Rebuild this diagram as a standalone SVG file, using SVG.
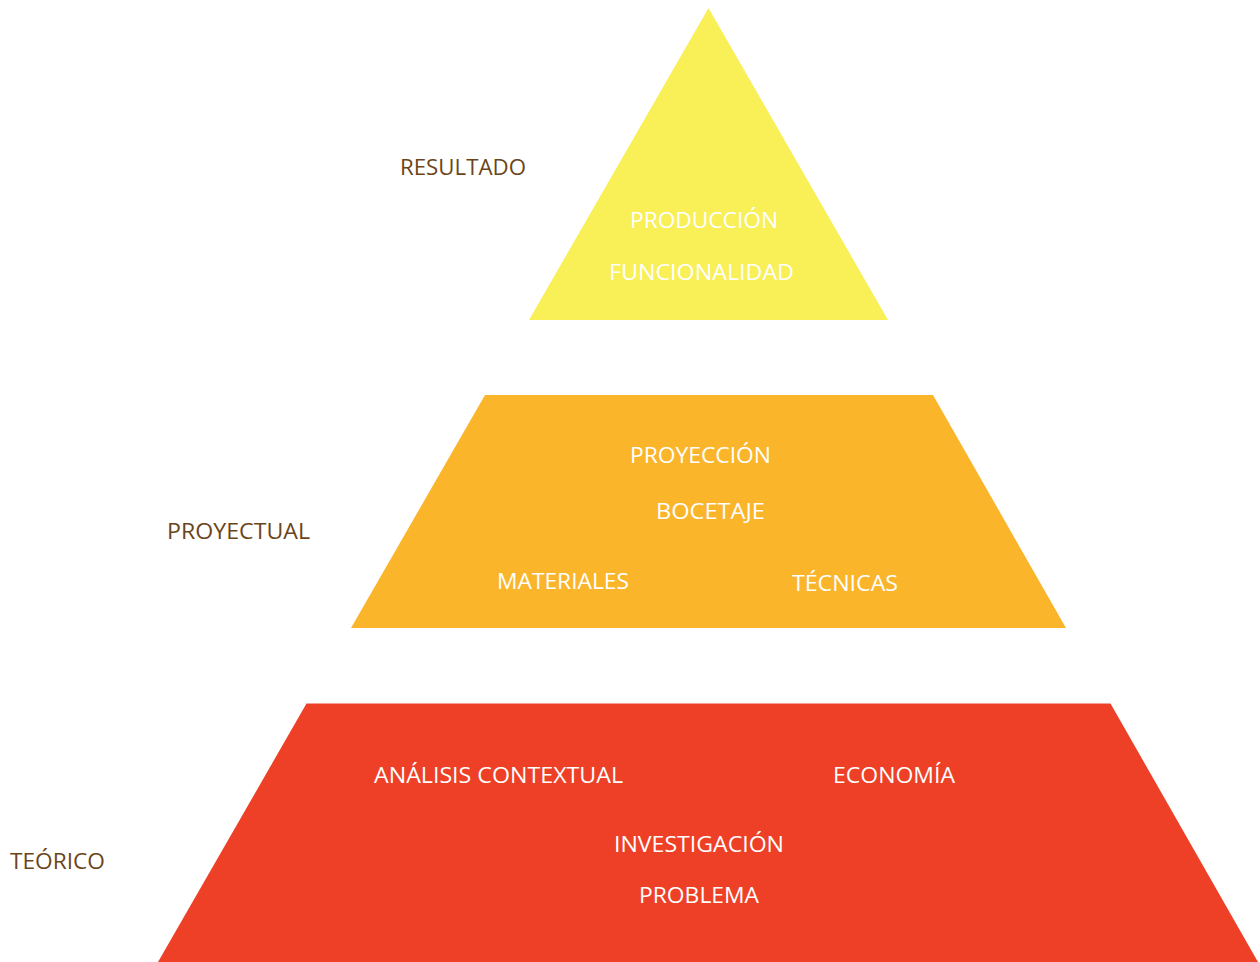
<svg xmlns="http://www.w3.org/2000/svg" width="1260" height="962" viewBox="0 0 1260 962">
<style>
.lbl{font-family:"Open Sans","Liberation Sans",sans-serif;font-size:22px;fill:#6b4519;text-anchor:middle}
.in{font-family:"Open Sans","Liberation Sans",sans-serif;font-size:22px;fill:#ffffff;text-anchor:middle}
</style>
<rect width="1260" height="962" fill="#ffffff"/>
<g id="resultado">
<polygon points="708.5,8 888,320 529,320" fill="#f9ef57"/>
<text class="in" x="704" y="228" textLength="148" lengthAdjust="spacingAndGlyphs">PRODUCCIÓN</text>
<text class="in" x="701.5" y="280" textLength="185" lengthAdjust="spacingAndGlyphs">FUNCIONALIDAD</text>
</g>
<g id="proyectual">
<polygon points="485,395 933,395 1066,628 351,628" fill="#fbb52b"/>
<text class="in" x="700.5" y="463" textLength="141" lengthAdjust="spacingAndGlyphs">PROYECCIÓN</text>
<text class="in" x="710.5" y="519" textLength="109" lengthAdjust="spacingAndGlyphs">BOCETAJE</text>
<text class="in" x="563" y="589" textLength="132" lengthAdjust="spacingAndGlyphs">MATERIALES</text>
<text class="in" x="845" y="591" textLength="106" lengthAdjust="spacingAndGlyphs">TÉCNICAS</text>
</g>
<g id="teorico">
<polygon points="306.5,703.5 1110.5,703.5 1258,962 158,962" fill="#ee4026"/>
<text class="in" x="498.5" y="783" textLength="249" lengthAdjust="spacingAndGlyphs">ANÁLISIS CONTEXTUAL</text>
<text class="in" x="894" y="783" textLength="122" lengthAdjust="spacingAndGlyphs">ECONOMÍA</text>
<text class="in" x="699" y="852" textLength="170" lengthAdjust="spacingAndGlyphs">INVESTIGACIÓN</text>
<text class="in" x="699" y="903" textLength="120" lengthAdjust="spacingAndGlyphs">PROBLEMA</text>
</g>
<g id="labels">
<text class="lbl" x="463" y="175" textLength="126" lengthAdjust="spacingAndGlyphs">RESULTADO</text>
<text class="lbl" x="238.5" y="539" textLength="143" lengthAdjust="spacingAndGlyphs">PROYECTUAL</text>
<text class="lbl" x="57.5" y="869" textLength="95" lengthAdjust="spacingAndGlyphs">TEÓRICO</text>
</g>
<g id="connectors"/>
</svg>
